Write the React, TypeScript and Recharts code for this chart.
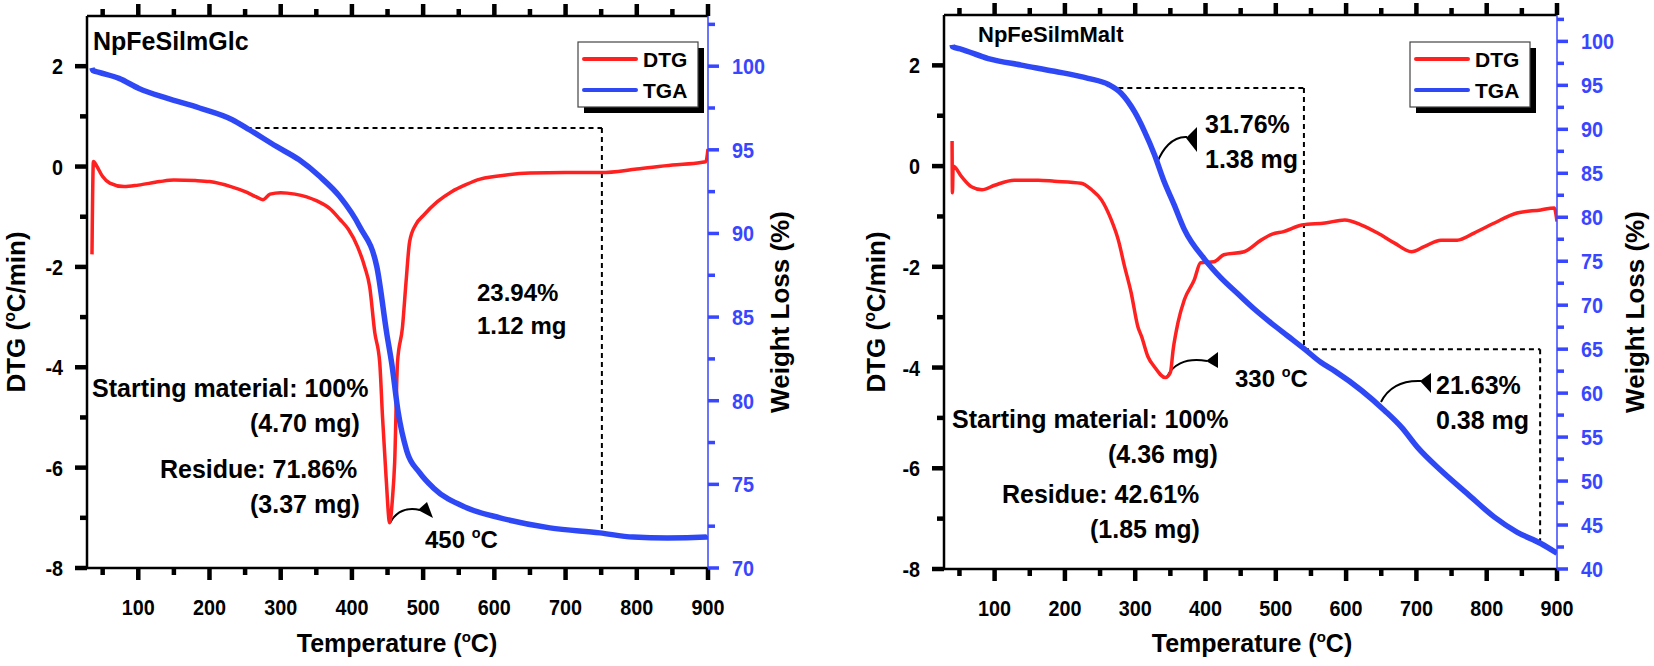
import React from 'react'
import { ComposedChart, Line, XAxis, YAxis, ReferenceLine, Customized } from 'recharts'

const FONT = 'Liberation Sans, Arial, sans-serif'
const RED = '#ff2020'
const BLUE = '#2f48f5'
const AXIS_BLUE = '#3846ff'

// shared axes
const tempTicks = [50, 100, 150, 200, 250, 300, 350, 400, 450, 500, 550, 600, 650, 700, 750, 800, 850, 900]
const dtgTicks = [-8, -7, -6, -5, -4, -3, -2, -1, 0, 1, 2]
const glcWeightTicks = [70, 72.5, 75, 77.5, 80, 82.5, 85, 87.5, 90, 92.5, 95, 97.5, 100, 102.5]
const maltWeightTicks = [40, 42.5, 45, 47.5, 50, 52.5, 55, 57.5, 60, 62.5, 65, 67.5, 70, 72.5, 75, 77.5, 80, 82.5, 85, 87.5, 90, 92.5, 95, 97.5, 100, 102.5]

// NpFeSilmGlc
const glcDtgT = [35, 37, 42, 50, 60, 80, 100, 130, 150, 180, 200, 230, 250, 265, 275, 285, 300, 320, 350, 370, 383, 395, 408, 418, 425, 432, 439, 443, 448, 453, 457, 460, 464, 471, 476, 481, 490, 500, 520, 540, 560, 580, 600, 650, 700, 750, 800, 850, 890, 897, 900]
const glcDtg = [-1.75, 0.1, 0.0, -0.2, -0.33, -0.4, -0.37, -0.3, -0.27, -0.28, -0.3, -0.4, -0.5, -0.6, -0.66, -0.55, -0.52, -0.55, -0.68, -0.85, -1.05, -1.25, -1.6, -2.0, -2.4, -3.3, -3.9, -5.0, -6.2, -7.1, -6.6, -5.9, -3.9, -3.2, -2.3, -1.5, -1.15, -0.98, -0.7, -0.5, -0.36, -0.25, -0.2, -0.13, -0.12, -0.12, -0.05, 0.03, 0.08, 0.1, 0.35]
const glcTgaT = [35, 36, 45, 73, 101, 139, 186, 232, 256, 294, 326, 355, 383, 411, 435, 449, 456, 465, 477, 495, 514, 561, 608, 678, 748, 795, 843, 898, 900]
const glcTga = [99.9, 99.75, 99.63, 99.27, 98.67, 98.1, 97.5, 96.8, 96.2, 95.2, 94.4, 93.4, 92.2, 90.4, 88.0, 84.0, 82.2, 79.3, 77.0, 75.7, 74.8, 73.6, 73.0, 72.4, 72.1, 71.85, 71.8, 71.85, 71.9]

// NpFeSilmMalt
const maltDtgT = [39.5, 40, 41, 53, 67, 82, 100, 128, 162, 185, 223, 238, 252, 266, 276, 285, 294, 304, 309, 318, 327, 343, 350, 354, 361, 370, 384, 393, 412, 426, 455, 479, 495, 511, 537, 570, 598, 622, 645, 669, 693, 711, 735, 758, 782, 811, 843, 877, 896, 900]
const maltDtg = [0.5, -0.53, 0, -0.21, -0.41, -0.47, -0.38, -0.28, -0.28, -0.3, -0.34, -0.47, -0.67, -1.07, -1.47, -2.0, -2.5, -3.2, -3.38, -3.78, -3.98, -4.2, -4.1, -3.64, -3.1, -2.65, -2.26, -1.92, -1.9, -1.76, -1.7, -1.47, -1.35, -1.3, -1.17, -1.13, -1.07, -1.17, -1.33, -1.53, -1.7, -1.6, -1.47, -1.47, -1.33, -1.13, -0.93, -0.87, -0.83, -1.1]
const maltTgaT = [39.5, 40, 53, 91, 138, 185, 233, 262, 280, 299, 313, 327, 341, 355, 370, 398, 422, 446, 469, 493, 517, 541, 564, 584, 622, 655, 679, 702, 735, 772, 811, 843, 877, 900]
const maltTga = [99.6, 99.4, 99.1, 98.05, 97.3, 96.6, 95.8, 95.1, 94.1, 92.0, 89.8, 87.2, 84.1, 81.5, 78.6, 75.3, 73.1, 71.3, 69.6, 68.0, 66.5, 65.0, 63.5, 62.5, 60.3, 58.0, 56.1, 53.8, 51.2, 48.6, 45.9, 44.2, 42.9, 41.8]

// dashed guide lines (temperature, weight %)
const glcSteps = [
  [{ x: 252, y: 96.3 }, { x: 751, y: 96.3 }],
  [{ x: 751, y: 96.3 }, { x: 751, y: 72.1 }],
]
const maltSteps = [
  [{ x: 276, y: 94.7 }, { x: 540, y: 94.7 }],
  [{ x: 540, y: 94.7 }, { x: 540, y: 65.0 }],
  [{ x: 540, y: 65.0 }, { x: 876, y: 65.0 }],
  [{ x: 876, y: 65.0 }, { x: 876, y: 43.1 }],
]

const legendItems = [
  { name: 'DTG', color: RED },
  { name: 'TGA', color: BLUE },
]

const toPts = (t: number[], v: number[]) => t.map((x, i) => ({ t: x, v: v[i] }))

// own tick marks (major + minor), drawn as small rects on the outside of each axis
function BottomTick(p: any) {
  const major = p.payload.value % 100 === 0
  const px = Number(p.x)
  const py = Number(p.y)
  return (
    <g>
      <rect x={px - 2.25} y={py} width={4.5} height={major ? 12 : 7} fill="#000" />
      {major && (
        <text transform={`translate(${px},${py + 47}) scale(0.9,1)`} textAnchor="middle" fontSize={22} fontWeight="bold" fontFamily={FONT} fill="#000">
          {p.payload.value}
        </text>
      )}
    </g>
  )
}

function TopTick(p: any) {
  const major = p.payload.value % 100 === 0
  const h = major ? 12 : 7
  return <rect x={Number(p.x) - 2.25} y={Number(p.y) - h} width={4.5} height={h} fill="#000" />
}

function LeftTick(p: any) {
  const major = p.payload.value % 2 === 0
  const px = Number(p.x)
  const py = Number(p.y)
  const w = major ? 12 : 7
  return (
    <g>
      <rect x={px - w} y={py - 2.25} width={w} height={4.5} fill="#000" />
      {major && (
        <text transform={`translate(${px - 24},${py + 8}) scale(0.9,1)`} textAnchor="end" fontSize={22} fontWeight="bold" fontFamily={FONT} fill="#000">
          {p.payload.value}
        </text>
      )}
    </g>
  )
}

function RightTick(p: any) {
  const major = p.payload.value % 5 === 0
  const px = Number(p.x)
  const py = Number(p.y)
  return (
    <g>
      <rect x={px} y={py - 1.75} width={major ? 11 : 7} height={3.5} fill={AXIS_BLUE} />
      {major && (
        <text transform={`translate(${px + 24},${py + 8}) scale(0.9,1)`} textAnchor="start" fontSize={22} fontWeight="bold" fontFamily={FONT} fill={AXIS_BLUE}>
          {p.payload.value}
        </text>
      )}
    </g>
  )
}

function Deg({ size }: { size: number }) {
  return (
    <>
      <tspan dy={-size * 0.4} fontSize={size * 0.6}>o</tspan>
      <tspan dy={size * 0.4}>C</tspan>
    </>
  )
}

function LegendBox({ x, y }: { x: number; y: number }) {
  const w = 120
  const h = 65
  return (
    <g>
      <rect x={x + 6} y={y + 6} width={w} height={h} fill="#000" />
      <rect x={x} y={y} width={w} height={h} fill="#fff" stroke="#444" strokeWidth={1.2} />
      {legendItems.map((it, i) => (
        <g key={it.name}>
          <line x1={x + 6} x2={x + 58} y1={y + 17 + i * 31} y2={y + 17 + i * 31} stroke={it.color} strokeWidth={4} strokeLinecap="round" />
          <text x={x + 65} y={y + 25 + i * 31} fontSize={21} fontWeight="bold" fontFamily={FONT} fill="#000">{it.name}</text>
        </g>
      ))}
    </g>
  )
}

function AxisTitles({ lx, rx, bx, cy }: { lx: number; rx: number; bx: number; cy: number }) {
  return (
    <g fontFamily={FONT} fontWeight="bold" fill="#000">
      <text x={lx} y={cy} transform={`rotate(-90,${lx},${cy})`} textAnchor="middle" fontSize={26}>
        DTG (<Deg size={26} />/min)
      </text>
      <text x={rx} y={cy} transform={`rotate(-90,${rx},${cy})`} textAnchor="middle" fontSize={26}>
        Weight Loss (%)
      </text>
      <text x={bx} y={652} textAnchor="middle" fontSize={25}>
        Temperature (<Deg size={25} />)
      </text>
    </g>
  )
}

function GlcOverlay() {
  return (
    <g>
      <AxisTitles lx={25} rx={789} bx={397} cy={312} />
      <g fontFamily={FONT} fontWeight="bold" fill="#000">
        <text x={93} y={50} fontSize={25}>NpFeSilmGlc</text>
        <text x={477} y={301} fontSize={24}>23.94%</text>
        <text x={477} y={334} fontSize={24}>1.12 mg</text>
        <text x={92} y={397} fontSize={25}>Starting material: 100%</text>
        <text x={250} y={432} fontSize={25}>(4.70 mg)</text>
        <text x={160} y={478} fontSize={25}>Residue: 71.86%</text>
        <text x={250} y={513} fontSize={25}>(3.37 mg)</text>
        <text x={425} y={548} fontSize={24}>450 <Deg size={24} /></text>
      </g>
      <path d="M390,523 C396,512 406,507 420,510" fill="none" stroke="#000" strokeWidth={2} />
      <polygon points="418,510 427,502 433,518" fill="#000" />
      <LegendBox x={578} y={42} />
    </g>
  )
}

function MaltOverlay() {
  return (
    <g>
      <AxisTitles lx={65} rx={824} bx={432} cy={312} />
      <g fontFamily={FONT} fontWeight="bold" fill="#000">
        <text x={158} y={42} fontSize={22}>NpFeSilmMalt</text>
        <text x={385} y={133} fontSize={25}>31.76%</text>
        <text x={385} y={168} fontSize={25}>1.38 mg</text>
        <text x={415} y={387} fontSize={24}>330 <Deg size={24} /></text>
        <text x={616} y={394} fontSize={25}>21.63%</text>
        <text x={616} y={429} fontSize={25}>0.38 mg</text>
        <text x={132} y={428} fontSize={25}>Starting material: 100%</text>
        <text x={288} y={463} fontSize={25}>(4.36 mg)</text>
        <text x={182} y={503} fontSize={25}>Residue: 42.61%</text>
        <text x={270} y={538} fontSize={25}>(1.85 mg)</text>
      </g>
      <path d="M337,163 C342,150 352,136 367,137" fill="none" stroke="#000" strokeWidth={2} />
      <polygon points="366,138 377,127 377,152" fill="#000" />
      <path d="M347,377 C352,366 364,357 387,361" fill="none" stroke="#000" strokeWidth={2} />
      <polygon points="386,361 398,352 398,368" fill="#000" />
      <path d="M561,402 C566,392 576,380 601,381" fill="none" stroke="#000" strokeWidth={2} />
      <polygon points="600,381 611,373 611,393" fill="#000" />
      <LegendBox x={590} y={42} />
    </g>
  )
}

type PanelProps = {
  width: number
  leftW: number
  rightW: number
  topH: number
  bottomH: number
  dtg: { t: number; v: number }[]
  tga: { t: number; v: number }[]
  wDomain: [number, number]
  wTicks: number[]
  steps: { x: number; y: number }[][]
  overlay: React.ReactElement
}

function Panel({ width, leftW, rightW, topH, bottomH, dtg, tga, wDomain, wTicks, steps, overlay }: PanelProps) {
  return (
    <ComposedChart width={width} height={666} margin={{ top: 0, right: 0, bottom: 0, left: 0 }}>
      <XAxis
        xAxisId="b" type="number" dataKey="t" domain={[28, 900]} ticks={tempTicks} interval={0}
        allowDataOverflow height={bottomH} tickSize={0} tickMargin={0} tickLine={false}
        axisLine={{ stroke: '#000', strokeWidth: 2.5 }} tick={(q: any) => <BottomTick {...q} />}
      />
      <XAxis
        xAxisId="top" orientation="top" type="number" dataKey="t" domain={[28, 900]} ticks={tempTicks} interval={0}
        allowDataOverflow height={topH} tickSize={0} tickMargin={0} tickLine={false}
        axisLine={{ stroke: '#000', strokeWidth: 2.5 }} tick={(q: any) => <TopTick {...q} />}
      />
      <YAxis
        yAxisId="dtg" type="number" domain={[-8, 3]} ticks={dtgTicks} interval={0}
        allowDataOverflow width={leftW} tickSize={0} tickMargin={0} tickLine={false}
        axisLine={{ stroke: '#000', strokeWidth: 2.5 }} tick={(q: any) => <LeftTick {...q} />}
      />
      <YAxis
        yAxisId="w" orientation="right" type="number" domain={wDomain} ticks={wTicks} interval={0}
        allowDataOverflow width={rightW} tickSize={0} tickMargin={0} tickLine={false}
        axisLine={{ stroke: AXIS_BLUE, strokeWidth: 1.5 }} tick={(q: any) => <RightTick {...q} />}
      />
      {steps.map((s, i) => (
        <ReferenceLine
          key={i} xAxisId="b" yAxisId="w" segment={s} ifOverflow="visible"
          stroke="#000" strokeWidth={2} strokeDasharray="5 4"
        />
      ))}
      <Line
        xAxisId="b" yAxisId="dtg" data={dtg} dataKey="v" name="DTG" type="monotone"
        stroke={RED} strokeWidth={3.5} dot={false} isAnimationActive={false}
      />
      <Line
        xAxisId="b" yAxisId="w" data={tga} dataKey="v" name="TGA" type="monotone"
        stroke={BLUE} strokeWidth={5.5} dot={false} isAnimationActive={false}
      />
      <Customized component={overlay} />
    </ComposedChart>
  )
}

export default function App() {
  return (
    <div style={{ position: 'absolute', left: 0, top: 0, width: 1654, height: 666, background: '#fff' }}>
      <div style={{ position: 'absolute', left: 0, top: 0 }}>
        <Panel
          width={820} leftW={87} rightW={112} topH={16} bottomH={98}
          dtg={toPts(glcDtgT, glcDtg)} tga={toPts(glcTgaT, glcTga)}
          wDomain={[70, 103]} wTicks={glcWeightTicks} steps={glcSteps}
          overlay={<GlcOverlay />}
        />
      </div>
      <div style={{ position: 'absolute', left: 820, top: 0 }}>
        <Panel
          width={834} leftW={124} rightW={97} topH={15} bottomH={97}
          dtg={toPts(maltDtgT, maltDtg)} tga={toPts(maltTgaT, maltTga)}
          wDomain={[40, 103]} wTicks={maltWeightTicks} steps={maltSteps}
          overlay={<MaltOverlay />}
        />
      </div>
    </div>
  )
}
